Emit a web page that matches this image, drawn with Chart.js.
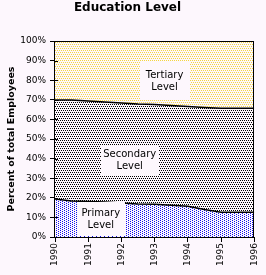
<!doctype html>
<html lang="en">
<head>
<meta charset="utf-8">
<title>Education Level</title>
<style>
  html, body { margin: 0; padding: 0; background: #fdf7fd; }
  canvas { display: block; }
</style>
</head>
<body>
<canvas id="edu" width="266" height="275"></canvas>
<script src="https://cdn.jsdelivr.net/npm/chart.js"></script>
<script>
// half-year readings, share of employees in %
const years = [1990, 1990.5, 1991, 1991.5, 1992, 1992.5, 1993, 1993.5, 1994, 1994.5, 1995, 1995.5, 1996];
const primary = [19.4, 18.4, 18.1, 17.9, 17.3, 16.8, 16.7, 16.2, 15.7, 14.0, 12.6, 12.6, 12.6];
const secondary = [50.5, 51.5, 51.3, 51.0, 51.1, 51.1, 50.9, 50.9, 50.9, 52.1, 53.1, 53.1, 53.1];
const tertiary = [30.1, 30.1, 30.6, 31.1, 31.6, 32.1, 32.4, 32.9, 33.4, 33.9, 34.3, 34.3, 34.3];

const bg = '#fdf7fd';

// little 1-bit style dot fills
function dots(color, cells, w, h) {
  const c = document.createElement('canvas');
  c.width = w; c.height = h;
  const g = c.getContext('2d');
  g.fillStyle = bg;
  g.fillRect(0, 0, w, h);
  g.fillStyle = color;
  cells.forEach(p => g.fillRect(p[0], p[1], 1, 1));
  return g.createPattern(c, 'repeat');
}
const ctx = document.getElementById('edu').getContext('2d');
const bluePat = dots('#1010f0', [[0, 0], [2, 1], [0, 2], [2, 3]], 4, 4);
const blackPat = dots('#000000', [[0, 0], [1, 2]], 2, 4);
const yellowPat = dots('#f4d640', [[0, 0], [1, 2]], 2, 4);

function pts(arr) {
  return years.map((x, i) => ({ x: x, y: arr[i] }));
}

const areaLabels = [
  { lines: ['Tertiary', 'Level'], x: 1993.3, y: 79.5, w: 50, h: 38 },
  { lines: ['Secondary', 'Level'], x: 1992.25, y: 39.3, w: 58, h: 30 },
  { lines: ['Primary', 'Level'], x: 1991.38, y: 9.2, w: 48, h: 34 }
];

const framePlugin = {
  id: 'frame',
  afterDatasetsDraw(chart) {
    const a = chart.chartArea;
    const g = chart.ctx;
    const ys = chart.scales.y;
    g.save();
    g.strokeStyle = '#000';
    g.lineWidth = 1;
    g.strokeRect(Math.round(a.left) - 0.5, Math.round(a.top) + 0.5, Math.round(a.right - a.left), Math.round(a.bottom - a.top));
    // inner half of the y ticks
    ys.ticks.forEach(t => {
      const py = Math.round(ys.getPixelForValue(t.value)) + 0.5;
      g.beginPath();
      g.moveTo(a.left, py);
      g.lineTo(a.left + 3, py);
      g.stroke();
    });
    // area labels on boxes
    g.font = '10px "DejaVu Sans"';
    g.textAlign = 'center';
    g.textBaseline = 'middle';
    areaLabels.forEach(l => {
      const cx = chart.scales.x.getPixelForValue(l.x);
      const cy = ys.getPixelForValue(l.y);
      g.fillStyle = bg;
      g.fillRect(Math.round(cx - l.w / 2), Math.round(cy - l.h / 2), l.w, l.h);
      g.fillStyle = '#000';
      l.lines.forEach((s, i) => {
        g.fillText(s, cx, cy + (i - (l.lines.length - 1) / 2) * 12);
      });
    });
    g.restore();
  }
};

const tickFont = { family: 'DejaVu Sans', size: 9 };

new Chart(ctx, {
  type: 'line',
  data: {
    datasets: [
      { label: 'Primary Level', data: pts(primary), fill: 'origin', backgroundColor: bluePat, borderColor: '#000', borderWidth: 1.5 },
      { label: 'Secondary Level', data: pts(secondary), fill: '-1', backgroundColor: blackPat, borderColor: '#000', borderWidth: 1.5 },
      { label: 'Tertiary Level', data: pts(tertiary), fill: '-1', backgroundColor: yellowPat, borderColor: '#000', borderWidth: 1 }
    ]
  },
  options: {
    responsive: false,
    animation: false,
    elements: { point: { radius: 0 }, line: { tension: 0 } },
    layout: { padding: { left: 0, right: 11, top: 0, bottom: 0 } },
    plugins: {
      legend: { display: false },
      tooltip: { enabled: false },
      title: {
        display: true,
        text: 'Education Level',
        color: '#000',
        font: { family: 'DejaVu Sans', size: 12, weight: 'bold' },
        padding: { top: 1, bottom: 25.6 }
      }
    },
    scales: {
      x: {
        type: 'linear',
        min: 1990,
        max: 1996,
        ticks: {
          stepSize: 1,
          autoSkip: false,
          minRotation: 90,
          maxRotation: 90,
          padding: 1,
          color: '#000',
          font: tickFont,
          callback: v => String(v)
        },
        grid: { drawOnChartArea: false, tickLength: 5, color: '#000' },
        border: { color: '#000' },
        afterFit: s => { s.height = 38; }
      },
      y: {
        stacked: true,
        min: 0,
        max: 100,
        ticks: {
          stepSize: 10,
          padding: 4,
          color: '#000',
          font: tickFont,
          callback: v => v + '%'
        },
        grid: { drawOnChartArea: false, tickLength: 5, color: '#000' },
        border: { color: '#000' },
        title: {
          display: true,
          text: 'Percent of total Employees',
          color: '#000',
          font: { family: 'DejaVu Sans', size: 9.5, weight: 'bold' },
          padding: { top: 6, bottom: 0 }
        },
        afterFit: s => { s.width = 55; }
      }
    }
  },
  plugins: [framePlugin]
});
</script>
</body>
</html>
